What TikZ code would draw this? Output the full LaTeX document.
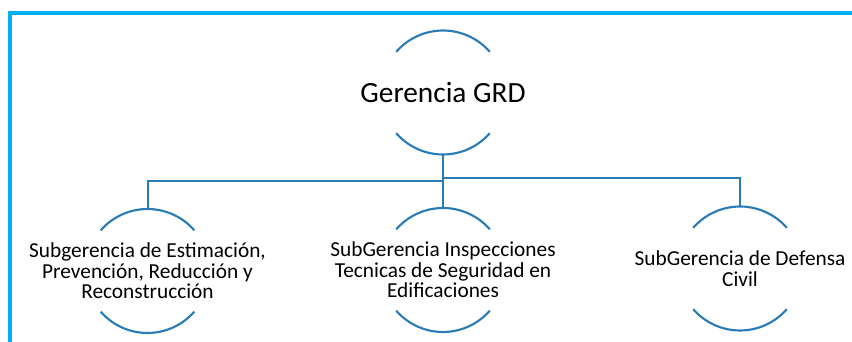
\documentclass[tikz,border=0pt]{standalone}
\usepackage{fontspec}
\setmainfont{Carlito}
\definecolor{grdBlue}{RGB}{41,124,182}
\definecolor{marcoCyan}{RGB}{0,176,240}

\begin{document}
\begin{tikzpicture}[x=0.75pt, y=0.75pt,
  every node/.style={align=center, inner sep=0pt, minimum height=93pt},
  titulo/.style={font=\fontsize{22}{26}\selectfont},
  subarea/.style={font=\fontsize{16}{15.5}\selectfont},
  arco/.style={draw=grdBlue, line width=1.6pt},
  enlace/.style={draw=grdBlue, line width=1.5pt}]
\useasboundingbox (0,0) rectangle (852,342);
% Marco
\draw[marcoCyan, line width=3pt] (10,0) -- (10,329) -- (852,329);

% Nodos
\node[titulo] (gerencia) at (443,249.5) {Gerencia GRD};
\node[subarea] (estimacion) at (147.5,71) {Subgerencia de Estimación,\\Prevención, Reducción y\\Reconstrucción};
\node[subarea] (inspecciones) at (443,72) {SubGerencia Inspecciones\\Tecnicas de Seguridad en\\Edificaciones};
\node[subarea] (defensa) at (740,73.5) {SubGerencia de Defensa\\Civil};

% Arcos
\foreach \n in {gerencia,estimacion,inspecciones,defensa} {
  \draw[arco] ([shift={(41:62)}]\n.center) arc[start angle=41, end angle=139, radius=62];
  \draw[arco] ([shift={(221:62)}]\n.center) arc[start angle=221, end angle=319, radius=62];
}

% Enlaces
\draw[enlace] (gerencia.south) -- ++(0,-26) -| (estimacion.north);
\draw[enlace] (gerencia.south) -- (inspecciones.north);
\draw[enlace] (gerencia.south) -- ++(0,-23) -| (defensa.north);
\end{tikzpicture}
\end{document}
